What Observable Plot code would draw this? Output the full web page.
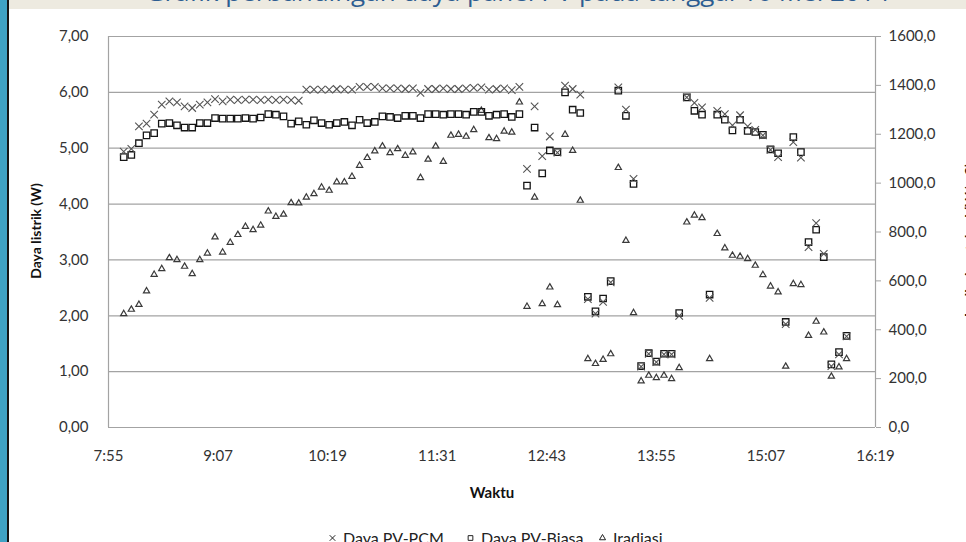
<!DOCTYPE html>
<html>
<head>
<meta charset="utf-8">
<script src="https://cdn.jsdelivr.net/npm/d3@7"></script>
<script src="https://cdn.jsdelivr.net/npm/@observablehq/plot@0.6"></script>
<style>
  html, body { margin: 0; padding: 0; background: #fff; }
  #page { position: relative; width: 966px; height: 542px; overflow: hidden; background: #fff; font-family: Lato, "Open Sans", sans-serif; }
  #chart { position: absolute; left: 0; top: 0; }
  .stripe { position: absolute; left: 0; top: 0; width: 7px; height: 542px; background: #3fa2c4; }
  .stripe2 { position: absolute; left: 7px; top: 0; width: 2px; height: 542px; background: #151515; }
  .topstrip { position: absolute; left: 9px; top: 0; width: 957px; height: 9px; background: #edeae0; overflow: hidden; }
  .topstrip span { position: absolute; left: 30px; width: 957px; text-align: center; top: -22px; font-size: 26px; line-height: 26px; color: #2d5d91; white-space: nowrap; font-family: "Open Sans", sans-serif; }
  .ytitle { position: absolute; font-weight: bold; font-size: 14px; color: #111; white-space: nowrap; transform: translate(-50%, -50%) rotate(-90deg); }
  .xtitle { position: absolute; left: 492px; top: 492px; transform: translate(-50%, -50%); font-weight: bold; font-size: 15px; color: #111; }
  .legend .item { position: absolute; top: 528px; display: flex; align-items: center; gap: 6px; font-size: 16px; color: #222; white-space: nowrap; }
</style>
</head>
<body>
<div id="page">
  <div id="chart"></div>
  <div class="stripe"></div>
  <div class="stripe2"></div>
  <div class="topstrip"><span>Grafik perbandingan daya panel PV pada tanggal 16 Mei 2014</span></div>
  <div class="ytitle" style="left:35px; top:231px;">Daya listrik (W)</div>
  <div class="ytitle" style="left:969px; top:240px;">Iradiasi matahari (W/m2)</div>
  <div class="xtitle">Waktu</div>
  <div class="legend" id="legend"></div>
</div>
<script>
// ---- data ----
const times = [
  "8:05","8:10","8:15","8:20","8:25","8:30","8:35","8:40","8:45","8:50","8:55","9:00",
  "9:05","9:10","9:15","9:20","9:25","9:30","9:35","9:40","9:45","9:50","9:55","10:00",
  "10:05","10:10","10:15","10:20","10:25","10:30","10:35","10:40","10:45","10:50","10:55","11:00",
  "11:05","11:10","11:15","11:20","11:25","11:30","11:35","11:40","11:45","11:50","11:55","12:00",
  "12:05","12:10","12:15","12:20","12:25","12:30","12:35","12:40","12:45","12:50","12:55","13:00",
  "13:05","13:10","13:15","13:20","13:25","13:30","13:35","13:40","13:45","13:50","13:55","14:00",
  "14:05","14:10","14:15","14:20","14:25","14:30","14:35","14:40","14:45","14:50","14:55","15:00",
  "15:05","15:10","15:15","15:20","15:25","15:30","15:35","15:40","15:45","15:50","15:55","16:00"
];
const dayaPCM = [
  4.94,4.99,5.39,5.44,5.60,5.78,5.84,5.82,5.75,5.72,5.78,5.82,
  5.88,5.84,5.87,5.86,5.87,5.87,5.86,5.87,5.86,5.87,5.86,5.85,
  6.05,6.05,6.05,6.05,6.06,6.05,6.05,6.10,6.10,6.10,6.07,6.07,
  6.07,6.06,6.07,5.99,6.06,6.06,6.07,6.06,6.06,6.07,6.08,6.09,
  6.05,6.06,6.07,6.04,6.10,4.63,5.75,4.86,5.21,4.92,6.12,6.06,
  5.96,2.30,2.04,2.25,2.60,6.09,5.69,4.45,1.09,1.32,1.17,1.31,
  1.31,2.00,5.91,5.81,5.73,2.32,5.67,5.61,5.41,5.59,5.39,5.33,
  5.23,4.97,4.84,1.85,5.11,4.83,3.23,3.66,3.11,1.10,1.31,1.63
];
const dayaBiasa = [
  4.84,4.88,5.09,5.23,5.27,5.44,5.45,5.41,5.37,5.37,5.45,5.45,
  5.54,5.53,5.53,5.53,5.54,5.53,5.55,5.61,5.60,5.57,5.44,5.48,
  5.42,5.50,5.45,5.42,5.45,5.47,5.41,5.51,5.45,5.47,5.57,5.56,
  5.54,5.58,5.58,5.54,5.61,5.61,5.60,5.61,5.61,5.60,5.65,5.65,
  5.58,5.60,5.61,5.56,5.61,4.33,5.37,4.55,4.96,4.93,6.00,5.69,
  5.63,2.34,2.08,2.31,2.62,6.03,5.58,4.36,1.10,1.33,1.18,1.32,
  1.32,2.05,5.91,5.67,5.60,2.38,5.60,5.51,5.32,5.51,5.31,5.29,
  5.24,4.98,4.91,1.89,5.20,4.93,3.32,3.54,3.05,1.13,1.35,1.64
];
const iradiasi = [
  465,483,503,558,626,649,694,686,659,629,686,713,
  779,717,757,789,822,809,827,885,863,872,919,918,
  942,956,983,970,1004,1004,1027,1072,1104,1131,1151,1124,
  1140,1113,1127,1022,1097,1151,1088,1195,1199,1191,1218,1297,
  1185,1181,1212,1208,1331,495,942,506,574,502,1199,1133,
  929,281,261,278,301,1063,765,469,190,213,203,213,
  199,244,840,868,858,281,793,734,704,700,690,663,
  625,578,554,250,588,584,376,434,390,209,247,281
];
const xTickLabels = ["7:55","9:07","10:19","11:31","12:43","13:55","15:07","16:19"];
const leftTicks = [0,1,2,3,4,5,6,7];
const rightTicks = [0,200,400,600,800,1000,1200,1400,1600];
const seriesNames = ["Daya PV-PCM","Daya PV-Biasa","Iradiasi"];

// ---- helpers ----
const toMin = s => { const [h, m] = s.split(":").map(Number); return h * 60 + m; };
const xTicks = xTickLabels.map(toMin);
const leftMax = leftTicks[leftTicks.length - 1];
const rightMax = rightTicks[rightTicks.length - 1];
const irToY = v => v * leftMax / rightMax;
const rows = times.map((t, i) => ({t: toMin(t), pcm: dayaPCM[i], biasa: dayaBiasa[i], ir: iradiasi[i]}));

const chart = Plot.plot({
  width: 966,
  height: 542,
  marginLeft: 108,
  marginRight: 91,
  marginTop: 36,
  marginBottom: 115,
  style: {fontFamily: "Lato, 'Open Sans', sans-serif", fontSize: "15px", color: "#333", background: "transparent", overflow: "visible"},
  x: {type: "linear", domain: [xTicks[0], xTicks[xTicks.length - 1]]},
  y: {domain: [0, leftMax]},
  marks: [
    Plot.ruleY(leftTicks, {stroke: "#a3a3a3", strokeWidth: 1.2}),
    Plot.ruleX([xTicks[0], xTicks[xTicks.length - 1]], {stroke: "#a3a3a3", strokeWidth: 1.2}),
    Plot.axisY(leftTicks, {anchor: "left", tickSize: 0, tickPadding: 20, label: null,
      tickFormat: d => d.toFixed(2).replace(".", ",")}),
    Plot.axisY(rightTicks.map(irToY), {anchor: "right", tickSize: 5, tickPadding: 8, label: null, stroke: "#a3a3a3",
      tickFormat: d => (d * rightMax / leftMax).toFixed(1).replace(".", ",")}),
    Plot.axisX(xTicks, {tickSize: 0, tickPadding: 23, label: null,
      tickFormat: d => xTickLabels[xTicks.indexOf(d)]}),
    Plot.dot(rows, {x: "t", y: d => irToY(d.ir), symbol: "triangle", r: 2.3, stroke: "#3a3a3a", strokeWidth: 1.2, fill: "none"}),
    Plot.dot(rows, {x: "t", y: "biasa", symbol: "square", r: 3.6, stroke: "#151515", strokeWidth: 1.3, fill: "none"}),
    Plot.dot(rows, {x: "t", y: "pcm", symbol: "times", r: 3.5, stroke: "#555", strokeWidth: 1.1})
  ]
});
document.getElementById("chart").appendChild(chart);

// ---- legend ----
const symbols = [d3.symbolTimes, d3.symbolSquare, d3.symbolTriangle];
const sizes = [22, 22, 16];
const lefts = [328, 466, 598];
const legend = d3.select("#legend");
seriesNames.forEach((name, i) => {
  const item = legend.append("div").attr("class", "item").style("left", lefts[i] + "px");
  const svg = item.append("svg").attr("width", 9).attr("height", 9);
  svg.append("path").attr("transform", "translate(4.5,5)")
    .attr("d", d3.symbol(symbols[i], sizes[i])())
    .attr("fill", "none").attr("stroke", "#222").attr("stroke-width", 1);
  item.append("span").text(name);
});
</script>
</body>
</html>
